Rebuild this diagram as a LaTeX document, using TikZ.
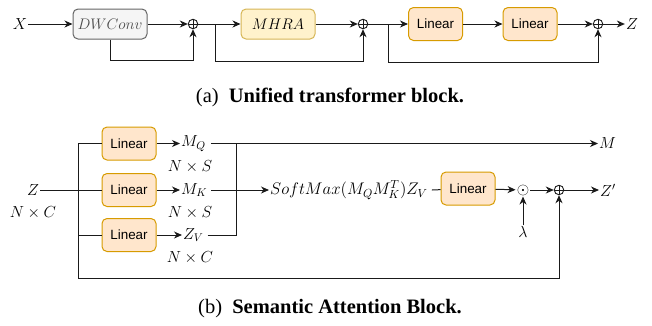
\RequirePackage{fix-cm}
\documentclass[tikz,border=0pt]{standalone}
\usepackage{fontspec}
\setsansfont{Liberation Sans}
\newfontfamily\capfont{Liberation Serif}
\usetikzlibrary{arrows.meta}
\definecolor{linF}{HTML}{FFE6CC}
\definecolor{linB}{HTML}{D79B00}
\definecolor{mhF}{HTML}{FFF2CC}
\definecolor{mhB}{HTML}{D6B656}
\definecolor{dwF}{HTML}{F5F5F5}
\definecolor{dwB}{HTML}{666666}
\definecolor{lnC}{HTML}{1A1A1A}
\begin{document}
\begin{tikzpicture}[x=1pt,y=-1pt,
  ln/.style={line width=1pt, draw=lnC},
  arr/.style={ln, -{Stealth[length=8pt,width=7pt,inset=2.5pt]}},
  mth/.style={font=\fontsize{16}{18}\selectfont, inner sep=1pt},
  boxbase/.style={rounded corners=5pt, line width=1pt, inner sep=0pt},
  lin/.style={boxbase, draw=linB, fill=linF, minimum width=54pt, minimum height=33pt, font=\sffamily\fontsize{13.4}{15}\selectfont},
  mhra/.style={boxbase, draw=mhB, fill=mhF, minimum width=74pt, minimum height=30pt, font=\fontsize{15.3}{18}\selectfont},
  dwc/.style={boxbase, draw=dwB, fill=dwF, minimum width=74pt, minimum height=30pt, font=\fontsize{15.3}{18}\selectfont, text=black!70},
  plus/.style={circle, draw=lnC, line width=0.9pt, minimum size=9.5pt, inner sep=0pt,
    path picture={\draw[line width=0.9pt, lnC] (path picture bounding box.north) -- (path picture bounding box.south)
      (path picture bounding box.west) -- (path picture bounding box.east);}},
  captxt/.style={font=\capfont\fontsize{20.5}{22}\selectfont, inner sep=0pt}
]
\useasboundingbox (0,0) rectangle (652,325);

% ---------- (a) ----------
\node[mth] (X) at (20,24) {$X$};
\node[dwc] (DW) at (110,24) {$DWConv$};
\node[plus] (p1) at (193,24) {};
\node[mhra] (MH) at (278,24) {$MHRA$};
\node[plus] (p2) at (363,24) {};
\node[lin] (L1) at (435.5,24) {Linear};
\node[lin] (L2) at (530,24) {Linear};
\node[plus] (p3) at (598,24) {};
\node[mth] (Zt) at (632,24) {$Z$};

\draw[arr] (X) -- (DW);
\draw[arr] (DW) -- (p1);
\draw[arr] (DW.south) -- ++(0,21) -| (p1);
\draw[arr] (p1) -- (MH);
\coordinate (b1) at (215,24);
\draw[arr] (b1) -- ++(0,37) -| (p2);
\draw[arr] (MH) -- (p2);
\draw[arr] (p2) -- (L1);
\coordinate (b2) at (388,24);
\draw[arr] (b2) -- ++(0,38) -| (p3);
\draw[arr] (L1) -- (L2);
\draw[arr] (L2) -- (p3);
\draw[arr] (p3) -- (Zt);

\node[captxt] (capa) at (330,97) {(a)\hspace{0.5em}\textbf{Unified transformer block.}};

% ---------- (b) ----------
\node[mth] (Zin) at (33,190) {$Z$};
\node[mth] (NC0) at (33,213) {$N\times C$};
\node[lin] (B1) at (129,143.5) {Linear};
\node[lin] (B2) at (129,190) {Linear};
\node[lin] (B3) at (129,235) {Linear};
\node[mth, anchor=west] (MQ) at (180,143.5) {$M_Q$};
\node[mth, anchor=west] (MK) at (180,190) {$M_K$};
\node[mth, anchor=west] (ZV) at (182,235) {$Z_V$};
\node[mth] (NS1) at (190,167) {$N\times S$};
\node[mth] (NS2) at (190,213) {$N\times S$};
\node[mth] (NC1) at (190,258) {$N\times C$};
\node[mth, anchor=west, font=\fontsize{16.8}{18}\selectfont] (SM) at (269,190) {$SoftMax(M_QM_K^T)Z_V$};
\node[lin] (B4) at (468,188.5) {Linear};
\node[mth] (od) at (523,190) {$\odot$};
\node[plus] (p4) at (559,190) {};
\node[mth, anchor=west] (Zp) at (599,190) {$Z'$};
\node[mth] (lam) at (523,232) {$\lambda$};
\node[mth, anchor=west] (M) at (598,143.5) {$M$};

\coordinate (t1) at (78,143.5);
\coordinate (t3) at (78,235);
\coordinate (tb) at (78,278);
\coordinate (j1) at (236,143.5);
\coordinate (j3) at (236,235);

\draw[ln] (Zin) -- (B2);
\draw[ln] (t1) -- (tb);
\draw[ln] (t1) -- (B1);
\draw[ln] (t3) -- (B3);
\draw[arr] (B1) -- (MQ);
\draw[arr] (B2) -- (MK);
\draw[arr] (B3) -- (ZV);
\draw[ln] (ZV.east) ++(3,0) -- (j3) -- (j1);
\draw[ln] (MQ.east) ++(4,0) -- (j1);
\draw[arr] (j1) -- (M);
\draw[arr] (MK.east) ++(3,0) -- (SM);
\draw[ln] (SM.east) ++(3,0) -- (B4);
\draw[arr] (B4) -- (od);
\draw[arr] (od) -- (p4);
\draw[arr] (p4) -- (Zp);
\draw[arr] (lam) -- (od);
\draw[arr] (tb) -| (p4);

\node[captxt] (capb) at (330,309) {(b)\hspace{0.5em}\textbf{Semantic Attention Block.}};
\end{tikzpicture}
\end{document}
